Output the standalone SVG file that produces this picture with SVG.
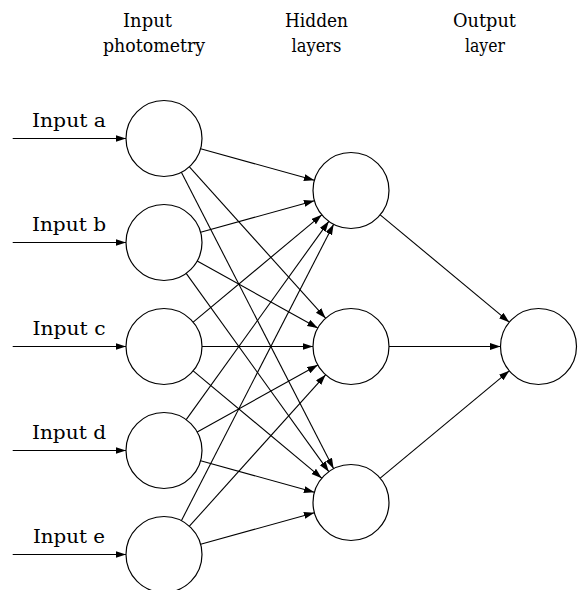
<svg xmlns="http://www.w3.org/2000/svg" width="580" height="590" viewBox="0 0 580 590">
<defs>
<style>
.node{fill:#fff;stroke:#000;stroke-width:1.2}
.edge{stroke:#000;stroke-width:1.1;fill:none;marker-end:url(#ah)}
.t{font-family:'DejaVu Serif',serif;font-size:19px;fill:#000}
</style>
<marker id="ah" markerUnits="userSpaceOnUse" markerWidth="11" markerHeight="8" refX="10.5" refY="3.5" orient="auto">
<path d="M0,0 L10.5,3.5 L0,7 Z" fill="#000"/>
</marker>
</defs>
<rect width="580" height="590" fill="#fff"/>
<g id="headers">
<text class="t" x="123" y="26.5" textLength="49" lengthAdjust="spacingAndGlyphs">Input</text>
<text class="t" x="103" y="51.5" textLength="102" lengthAdjust="spacingAndGlyphs">photometry</text>
<text class="t" x="285" y="26.5" textLength="63" lengthAdjust="spacingAndGlyphs">Hidden</text>
<text class="t" x="291.5" y="51.5" textLength="50" lengthAdjust="spacingAndGlyphs">layers</text>
<text class="t" x="453" y="26.5" textLength="63" lengthAdjust="spacingAndGlyphs">Output</text>
<text class="t" x="465" y="51.5" textLength="40" lengthAdjust="spacingAndGlyphs">layer</text>
</g>
<g id="connectors">
<line class="edge" x1="12.7" y1="138.5" x2="126" y2="138.5"/>
<line class="edge" x1="12.7" y1="242.5" x2="126" y2="242.5"/>
<line class="edge" x1="12.7" y1="346.5" x2="126" y2="346.5"/>
<line class="edge" x1="12.7" y1="450.5" x2="126" y2="450.5"/>
<line class="edge" x1="12.7" y1="554.5" x2="126" y2="554.5"/>
<line class="edge" x1="200.61" y1="148.68" x2="314.39" y2="180.32"/>
<line class="edge" x1="189.41" y1="166.76" x2="325.59" y2="318.24"/>
<line class="edge" x1="181.37" y1="172.30" x2="333.63" y2="468.70"/>
<line class="edge" x1="200.61" y1="232.32" x2="314.39" y2="200.68"/>
<line class="edge" x1="197.21" y1="260.97" x2="317.79" y2="328.03"/>
<line class="edge" x1="186.19" y1="273.35" x2="328.81" y2="471.65"/>
<line class="edge" x1="193.18" y1="322.16" x2="321.82" y2="214.84"/>
<line class="edge" x1="202" y1="346.5" x2="313" y2="346.5"/>
<line class="edge" x1="193.18" y1="370.84" x2="321.82" y2="478.16"/>
<line class="edge" x1="186.19" y1="419.65" x2="328.81" y2="221.35"/>
<line class="edge" x1="197.21" y1="432.03" x2="317.79" y2="364.97"/>
<line class="edge" x1="200.61" y1="460.68" x2="314.39" y2="492.32"/>
<line class="edge" x1="181.37" y1="520.70" x2="333.63" y2="224.30"/>
<line class="edge" x1="189.41" y1="526.24" x2="325.59" y2="374.76"/>
<line class="edge" x1="200.61" y1="544.32" x2="314.39" y2="512.68"/>
<line class="edge" x1="380.21" y1="214.80" x2="509.29" y2="322.20"/>
<line class="edge" x1="389" y1="346.5" x2="500.5" y2="346.5"/>
<line class="edge" x1="380.21" y1="478.20" x2="509.29" y2="370.80"/>
</g>
<g id="input-a"><circle class="node" cx="164" cy="138.5" r="38"/><text class="t" x="69" y="126.5" text-anchor="middle" textLength="74" lengthAdjust="spacingAndGlyphs">Input a</text></g>
<g id="input-b"><circle class="node" cx="164" cy="242.5" r="38"/><text class="t" x="69" y="230.5" text-anchor="middle" textLength="74" lengthAdjust="spacingAndGlyphs">Input b</text></g>
<g id="input-c"><circle class="node" cx="164" cy="346.5" r="38"/><text class="t" x="69" y="334.5" text-anchor="middle" textLength="73" lengthAdjust="spacingAndGlyphs">Input c</text></g>
<g id="input-d"><circle class="node" cx="164" cy="450.5" r="38"/><text class="t" x="69" y="438.5" text-anchor="middle" textLength="74" lengthAdjust="spacingAndGlyphs">Input d</text></g>
<g id="input-e"><circle class="node" cx="164" cy="554.5" r="38"/><text class="t" x="69" y="542.5" text-anchor="middle" textLength="72" lengthAdjust="spacingAndGlyphs">Input e</text></g>
<g id="hidden-1"><circle class="node" cx="351" cy="190.5" r="38"/></g>
<g id="hidden-2"><circle class="node" cx="351" cy="346.5" r="38"/></g>
<g id="hidden-3"><circle class="node" cx="351" cy="502.5" r="38"/></g>
<g id="output"><circle class="node" cx="538.5" cy="346.5" r="38"/></g>
</svg>
